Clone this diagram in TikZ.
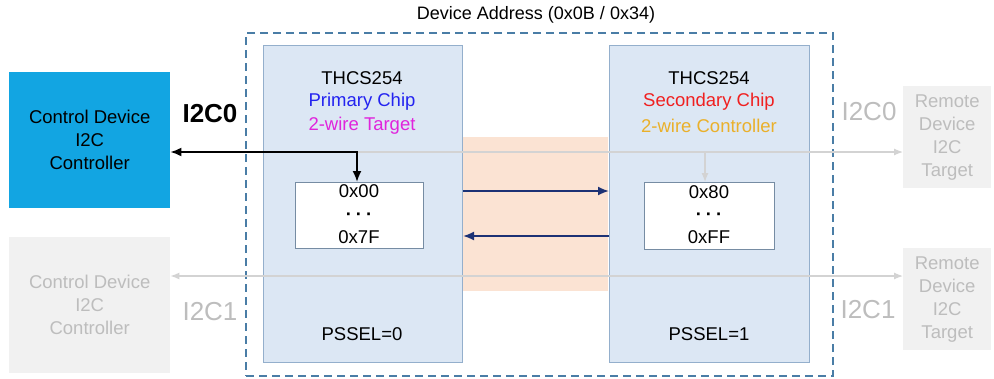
\documentclass[tikz,border=0pt]{standalone}
\usepackage{fontspec}
\setmainfont{Liberation Sans}
\usetikzlibrary{arrows.meta}
\definecolor{ctrlblue}{HTML}{12A5E2}
\definecolor{chipfill}{HTML}{DCE7F4}
\definecolor{chipline}{HTML}{94AFCC}
\definecolor{dashc}{HTML}{4A7DA6}
\definecolor{orfill}{HTML}{FBE3D3}
\definecolor{navy}{HTML}{1C3275}
\definecolor{ghostfill}{HTML}{F1F1F1}
\definecolor{ghosttext}{HTML}{BDBDBD}
\definecolor{ghostline}{HTML}{D3D3D3}
\definecolor{prim}{HTML}{2323F0}
\definecolor{targ}{HTML}{E024DC}
\definecolor{seco}{HTML}{F02020}
\definecolor{contr}{HTML}{EAB02A}
\tikzset{
  txt/.style={font=\fontsize{18.5}{23}\selectfont, align=center, inner sep=0pt},
  dots/.style={font=\bfseries\fontsize{18.5}{10}\selectfont, inner sep=0pt, text height=4pt, text depth=0pt},
  chipbox/.style={draw=chipline, fill=chipfill, line width=1pt, anchor=north west, inner sep=0pt},
  regbox/.style={draw=chipline!80!black, fill=white, line width=1pt, anchor=north west, inner sep=0pt},
  ghostbox/.style={fill=ghostfill, draw=none, anchor=north west, inner sep=0pt, txt, text=ghosttext},
  ghostlbl/.style={font=\fontsize{26}{28}\selectfont, text=ghosttext, inner sep=0pt},
  ghostarrow/.style={draw=ghostline, line width=1.2pt, -{Latex[length=9pt,width=7pt]}},
  navyarrow/.style={draw=navy, line width=1.8pt, -{Latex[length=11pt,width=9pt]}},
}
\begin{document}
\begin{tikzpicture}[x=1pt,y=-1pt]
\useasboundingbox (0,0) rectangle (994,378);
% outer dashed device box
\node[draw=dashc, line width=2pt, dash pattern=on 8pt off 5pt, anchor=north west,
      minimum width=587, minimum height=343, inner sep=0pt] (dev) at (245,32) {};
\node[txt, font=\fontsize{18}{22}\selectfont] (devlbl) at (536,15) {Device Address (0x0B / 0x34)};
% orange bridge region
\node[fill=orfill, draw=none, anchor=north west, minimum width=146, minimum height=154, inner sep=0pt] (bridge) at (462,137) {};
% chips
\node[chipbox, minimum width=199, minimum height=317] (chip0) at (263,45) {};
\node[chipbox, minimum width=200, minimum height=317] (chip1) at (609,45) {};
\node[txt] (c0a) at (362,78) {THCS254};
\node[txt, text=prim] (c0b) at (362,102) {Primary Chip};
\node[txt, text=targ] (c0c) at (362,126) {2-wire Target};
\node[txt] (c1a) at (709,78) {THCS254};
\node[txt, text=seco] (c1b) at (709,102) {Secondary Chip};
\node[txt, text=contr] (c1c) at (709,126) {2-wire Controller};
\node[txt] (ps0) at (362,334) {PSSEL=0};
\node[txt] (ps1) at (709,334) {PSSEL=1};
% register boxes
\node[regbox, minimum width=128, minimum height=66] (reg0) at (295,182) {};
\node[regbox, minimum width=130, minimum height=67] (reg1) at (644,182) {};
\node[txt] (r0a) at (359,191) {0x00};
\node[dots] (r0b) at (359,218) {·\hspace{4pt}·\hspace{4pt}·};
\node[txt] (r0c) at (359,237) {0x7F};
\node[txt] (r1a) at (709,192) {0x80};
\node[dots] (r1b) at (709,218) {·\hspace{4pt}·\hspace{4pt}·};
\node[txt] (r1c) at (709,237) {0xFF};
% control device
\node[fill=ctrlblue, draw=none, anchor=north west, minimum width=161, minimum height=136, txt,
      font=\fontsize{18.5}{23}\selectfont] (ctrl0) at (9,72) {Control Device\\I2C\\Controller};
\node[font=\bfseries\fontsize{26}{28}\selectfont, inner sep=0pt] (i2c0) at (210,114) {I2C0};
\node[ghostbox, minimum width=161, minimum height=136] (ctrl1) at (9,237) {Control Device\\I2C\\Controller};
\node[ghostlbl] (i2c1l) at (210,312) {I2C1};
% remote devices
\node[ghostbox, minimum width=88, minimum height=102] (rem0) at (903,86) {Remote\\Device\\I2C\\Target};
\node[ghostbox, minimum width=88, minimum height=102] (rem1) at (903,248) {Remote\\Device\\I2C\\Target};
\node[ghostlbl] (i2c0r) at (869,112) {I2C0};
\node[ghostlbl] (i2c1r) at (868,310) {I2C1};
% connectors
\coordinate (j0) at (357,152);
\coordinate (j1) at (705,152);
\coordinate (b0) at (0,276);
\draw[ghostarrow] (j0) -- (rem0.west |- j0);
\draw[ghostarrow] (j1) -- (reg1.north -| j1);
\draw[ghostarrow, {Latex[length=9pt,width=7pt]}-{Latex[length=9pt,width=7pt]}] (ctrl1.east |- b0) -- (rem1.west |- b0);
\draw[line width=1.8pt, {Latex[length=11pt,width=9pt]}-{Latex[length=11pt,width=9pt]}] (ctrl0.east |- j0) -- (j0) -- (reg0.north -| j0);
\coordinate (n0) at (0,191);
\coordinate (n1) at (0,236);
\draw[navyarrow] (chip0.east |- n0) -- (chip1.west |- n0);
\draw[navyarrow] (chip1.west |- n1) -- (chip0.east |- n1);
\end{tikzpicture}
\end{document}
